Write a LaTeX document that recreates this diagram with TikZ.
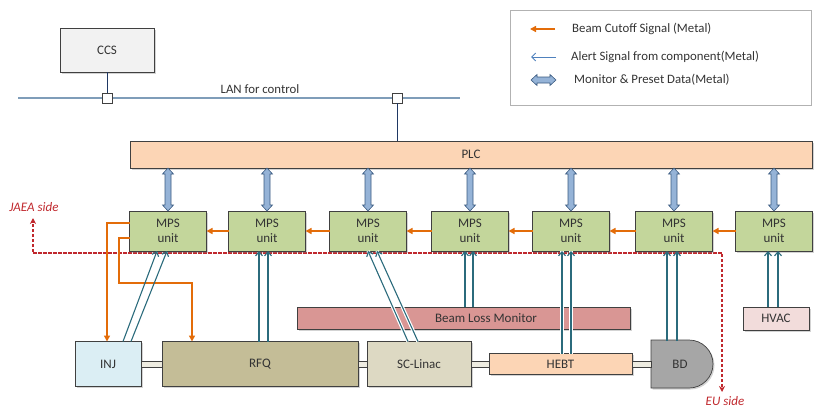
\documentclass[tikz,border=0pt]{standalone}
\usepackage{fontspec}
\setmainfont{Carlito}
\usetikzlibrary{arrows.meta,calc,shadows}
\definecolor{plcfill}{HTML}{FCD5B5}
\definecolor{mpsfill}{HTML}{C3D69B}
\definecolor{injfill}{HTML}{DBEEF4}
\definecolor{rfqfill}{HTML}{C4BD97}
\definecolor{scfill}{HTML}{DDD9C3}
\definecolor{blmfill}{HTML}{D99694}
\definecolor{hvacfill}{HTML}{F2DCDB}
\definecolor{bdfill}{HTML}{A6A6A6}
\definecolor{pipefill}{HTML}{EEECE1}
\definecolor{ccsfill}{HTML}{F2F2F2}
\definecolor{borderc}{HTML}{404040}
\definecolor{lanc}{HTML}{7F9DB9}
\definecolor{linkc}{HTML}{1F3864}
\definecolor{cutc}{HTML}{E36C09}
\definecolor{alertc}{HTML}{2B6B7C}
\definecolor{legblue}{HTML}{4F81BD}
\definecolor{monfill}{HTML}{95B3D7}
\definecolor{monline}{HTML}{3A5A80}
\definecolor{sidec}{HTML}{C0282D}
\begin{document}
\begin{tikzpicture}[x=1pt,y=-1pt,
  shad/.style={drop shadow={shadow xshift=1.5pt, shadow yshift=-1.5pt, opacity=0.35}},
  box/.style={draw=borderc, line width=0.7pt, inner sep=0pt, outer sep=0pt,
    font=\fontsize{13}{15}\selectfont, align=center, text=black!80, shad},
  mps/.style={box, fill=mpsfill, minimum width=77pt, minimum height=40pt},
  cut/.style={cutc, line width=2pt, -{Triangle[length=6pt,width=6pt]}},
  alert/.style={alertc, line width=1.1pt, -{Straight Barb[length=4pt,width=7pt]}},
  halo/.style={white, line width=3.4pt},
  pipe/.style={draw=borderc, line width=0.6pt, fill=pipefill},
  mon/.style={draw=monline, line width=0.6pt, fill=monfill},
  side/.style={sidec, line width=1.2pt, dash pattern=on 3pt off 2pt, -{Stealth[length=6pt,width=6pt]}},
  sidetxt/.style={text=sidec, font=\fontsize{13}{14}\selectfont\itshape, inner sep=0pt},
  txt/.style={text=black!80, inner sep=0pt},
  legtxt/.style={txt, anchor=west, font=\fontsize{12.8}{14}\selectfont}
]
\useasboundingbox (0,0) rectangle (814,410);

% legend
\node[draw=black!30, line width=0.6pt, minimum width=301pt, minimum height=95pt, anchor=north west, inner sep=0pt] (legend) at (510,10) {};
\coordinate (l1a) at (555,29); \coordinate (l1b) at (530,29);
\draw[cut] (l1a) -- (l1b);
\node[legtxt] (lt1) at (572,29) {Beam Cutoff Signal (Metal)};
\coordinate (l2a) at (556,57); \coordinate (l2b) at (531,57);
\draw[legblue, line width=1pt, -{Straight Barb[length=4pt,width=8pt]}] (l2a) -- (l2b);
\node[legtxt] (lt2) at (571,57) {Alert Signal from component(Metal)};
\coordinate (l3a) at (531,80); \coordinate (l3b) at (556,80);
\draw[mon] ($(l3a)+(6,-3)$) -- ($(l3a)+(6,-5.5)$) -- (l3a) -- ($(l3a)+(6,5.5)$) -- ($(l3a)+(6,3)$)
  -- ($(l3b)+(-6,3)$) -- ($(l3b)+(-6,5.5)$) -- (l3b) -- ($(l3b)+(-6,-5.5)$) -- ($(l3b)+(-6,-3)$) -- cycle;
\node[legtxt] (lt3) at (574,80) {Monitor \& Preset Data(Metal)};

% CCS and LAN
\node[box, fill=ccsfill, minimum width=94pt, minimum height=44pt, anchor=north west] (ccs) at (60,28) {CCS};
\coordinate (lanl) at (18,98); \coordinate (lanr) at (460,98);
\draw[lanc, line width=1.5pt] (lanl) -- (lanr);
\node[txt, font=\fontsize{12.8}{14}\selectfont] (lantxt) at (260,89) {LAN for control};
\node[draw=borderc, fill=white, line width=0.6pt, minimum size=10pt, inner sep=0pt] (sq1) at (107,98) {};
\node[draw=borderc, fill=white, line width=0.6pt, minimum size=10pt, inner sep=0pt] (sq2) at (397,98) {};
\draw[linkc, line width=0.8pt] (ccs.south -| sq1.north) -- (sq1.north);

% PLC
\node[box, fill=plcfill, minimum width=682pt, minimum height=27pt, anchor=north west] (plc) at (130,141) {PLC};
\draw[linkc, line width=0.8pt] (sq2.south) -- (plc.north -| sq2.south);

% red dashed side line
\coordinate (jaea) at (33,218); \coordinate (jc) at (33,253);
\coordinate (ec) at (722,253); \coordinate (eu) at (722,392);
\draw[side] (ec) -- (jc) -- (jaea);
\draw[side] (jc) -- (ec) -- (eu);
\node[sidetxt] (jaeatxt) at (34,207) {JAEA side};
\node[sidetxt, anchor=base] (eutxt) at (725,405) {EU side};

% MPS units
\foreach \i/\x in {1/168,2/267,3/368,4/470,5/571,6/674,7/774}
  \node[mps] (mps\i) at (\x,231) {MPS\\unit};

% monitor & preset double arrows
\foreach \i in {1,...,7}{
  \coordinate (t) at (plc.south -| mps\i.north);
  \coordinate (b) at (mps\i.north);
  \draw[mon] ($(t)+(-3,6)$) -- ($(t)+(-5.5,6)$) -- (t) -- ($(t)+(5.5,6)$) -- ($(t)+(3,6)$)
    -- ($(b)+(3,-6)$) -- ($(b)+(5.5,-6)$) -- (b) -- ($(b)+(-5.5,-6)$) -- ($(b)+(-3,-6)$) -- cycle;
}

% beam cutoff chain
\foreach \i [evaluate=\i as \j using int(\i+1)] in {1,...,6}
  \draw[cut] (mps\j.west) -- (mps\i.east);

% components
\node[box, fill=blmfill, minimum width=333pt, minimum height=22pt, anchor=north west] (blm) at (297,307) {};
\node[txt, font=\fontsize{13}{14}\selectfont] (blmtxt) at (486,318) {Beam Loss Monitor};
\node[box, fill=hvacfill, minimum width=66pt, minimum height=23pt, anchor=north west] (hvac) at (743,307) {HVAC};
\node[box, fill=injfill, minimum width=66pt, minimum height=45pt, anchor=west] (inj) at (75,364) {INJ};
\node[box, fill=rfqfill, minimum width=196pt, minimum height=45pt, anchor=west] (rfq) at (162,364) {RFQ};
\node[box, fill=scfill, minimum width=104pt, minimum height=45pt, anchor=west] (sc) at (367,364) {SC-Linac};
\node[box, fill=plcfill, minimum width=143pt, minimum height=21pt, anchor=west] (hebt) at (489,364) {HEBT};
\coordinate (bdnw) at (651,340);
\draw[draw=borderc, line width=0.7pt, fill=bdfill, shad] (bdnw) -- ++(38,0) arc[start angle=90, end angle=-90, radius=24pt] -- (651,388) -- cycle;
\node[txt, font=\fontsize{13}{15}\selectfont] (bd) at (680,364) {BD};

% beam pipes
\draw[pipe] ([yshift=3pt]inj.east) rectangle ([yshift=-3pt]rfq.west);
\draw[pipe] ([yshift=3pt]rfq.east) rectangle ([yshift=-3pt]sc.west);
\draw[pipe] ([yshift=3pt]sc.east) rectangle ([yshift=-3pt]hebt.west);
\draw[pipe] ([yshift=3pt]hebt.east) rectangle ($(bdnw)+(0,27)$);

% cutoff to INJ and RFQ
\draw[cut] ([yshift=8pt]mps1.west) -| ([xshift=32pt]inj.north west);
\draw[cut] ([yshift=-7pt]mps1.west) -- ++(-11,0) -- ++(0,45) -| ([xshift=30pt]rfq.north west);

% alert signals
\draw[alert] ([xshift=48pt]inj.north west) -- ([xshift=-11pt]mps1.south);
\draw[alert] ([xshift=56pt]inj.north west) -- ([xshift=-1pt]mps1.south);
\draw[alert] ([xshift=97pt]rfq.north west) -- ([xshift=-8pt]mps2.south);
\draw[alert] ([xshift=106pt]rfq.north west) -- ([xshift=1pt]mps2.south);
\draw[halo] ([xshift=41pt]sc.north west) -- ([xshift=0pt]mps3.south);
\draw[halo] ([xshift=51pt]sc.north west) -- ([xshift=9pt]mps3.south);
\draw[alert] ([xshift=41pt]sc.north west) -- ([xshift=0pt]mps3.south);
\draw[alert] ([xshift=51pt]sc.north west) -- ([xshift=9pt]mps3.south);
\draw[alert] ([xshift=168pt]blm.north west) -- ([xshift=-5pt]mps4.south);
\draw[alert] ([xshift=176pt]blm.north west) -- ([xshift=3pt]mps4.south);
\draw[halo] ([xshift=73pt]hebt.north west) -- ([xshift=-9pt]mps5.south);
\draw[halo] ([xshift=82pt]hebt.north west) -- ([xshift=0pt]mps5.south);
\draw[alert] ([xshift=73pt]hebt.north west) -- ([xshift=-9pt]mps5.south);
\draw[alert] ([xshift=82pt]hebt.north west) -- ([xshift=0pt]mps5.south);
\draw[alert] ($(bdnw)+(16,1)$) -- ([xshift=-7pt]mps6.south);
\draw[alert] ($(bdnw)+(26,1)$) -- ([xshift=3pt]mps6.south);
\draw[alert] ([xshift=25pt]hvac.north west) -- ([xshift=-6pt]mps7.south);
\draw[alert] ([xshift=35pt]hvac.north west) -- ([xshift=4pt]mps7.south);
\end{tikzpicture}
\end{document}
